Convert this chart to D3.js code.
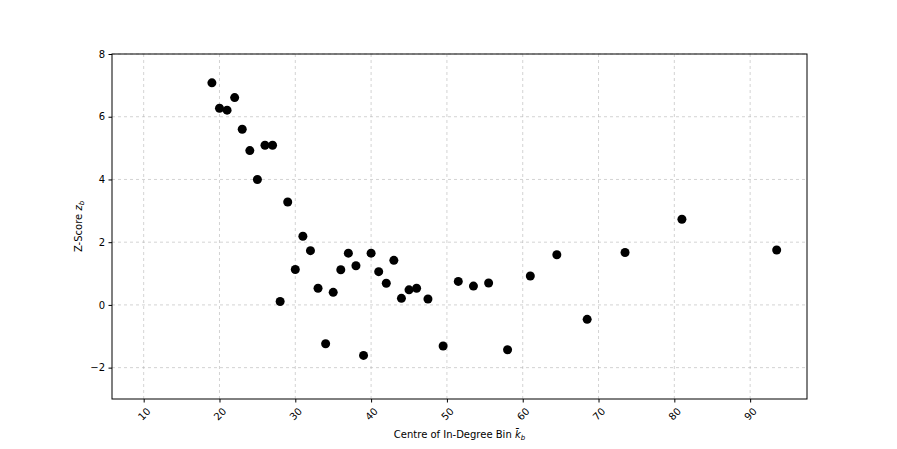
<!DOCTYPE html>
<html>
<head>
<meta charset="utf-8">
<script src="https://cdn.jsdelivr.net/npm/d3@7"></script>
<style>
  body { margin: 0; background: #fff; }
  text { font-family: "DejaVu Sans", sans-serif; }
</style>
</head>
<body>
<svg width="897" height="449"></svg>
<script>
// bin centres and z-scores
var binCentres = [19, 20, 21, 22, 23, 24, 25, 26, 27, 28, 29, 30, 31, 32, 33, 34, 35, 36, 37, 38,
                  39, 40, 41, 42, 43, 44, 45, 46, 47.5, 49.5, 51.5, 53.5, 55.5, 58, 61, 64.5, 68.5, 73.5, 81, 93.5];
var zScores = [7.08, 6.27, 6.21, 6.61, 5.60, 4.92, 4.00, 5.09, 5.09, 0.11, 3.28, 1.13, 2.19, 1.73, 0.53, -1.24, 0.40, 1.12, 1.65, 1.25,
               -1.61, 1.65, 1.06, 0.69, 1.42, 0.21, 0.48, 0.53, 0.19, -1.31, 0.75, 0.60, 0.70, -1.43, 0.92, 1.60, -0.46, 1.67, 2.73, 1.75];
var xTicks = [10, 20, 30, 40, 50, 60, 70, 80, 90];
var yTicks = [-2, 0, 2, 4, 6, 8];

var svg = d3.select("svg");
var pLeft = 112, pRight = 807, pTop = 54, pBottom = 399;

var x = d3.scaleLinear().domain([5.82, 97.5]).range([pLeft, pRight]);
var y = d3.scaleLinear().domain([-3, 8]).range([pBottom, pTop]);

// grid
var grid = svg.append("g").attr("class", "grid");
grid.selectAll("line.gx")
    .data(xTicks)
  .enter().append("line")
    .attr("x1", function(d) { return x(d); })
    .attr("x2", function(d) { return x(d); })
    .attr("y1", pTop).attr("y2", pBottom);
grid.selectAll("line.gy")
    .data(yTicks)
  .enter().append("line")
    .attr("y1", function(d) { return y(d); })
    .attr("y2", function(d) { return y(d); })
    .attr("x1", pLeft).attr("x2", pRight);
grid.selectAll("line")
    .attr("stroke", "#b0b0b0")
    .attr("stroke-opacity", 0.7)
    .attr("stroke-width", 0.8)
    .attr("stroke-dasharray", "3,3");

// points
svg.append("g")
  .selectAll("circle")
  .data(binCentres)
  .enter().append("circle")
    .attr("cx", function(d) { return x(d); })
    .attr("cy", function(d, i) { return y(zScores[i]); })
    .attr("r", 4.5)
    .attr("fill", "#000");

// axes
var xAxis = svg.append("g")
    .attr("transform", "translate(0," + pBottom + ")")
    .call(d3.axisBottom(x).tickValues(xTicks).tickSize(3.5).tickPadding(3));
xAxis.selectAll("text")
    .attr("font-size", "10px")
    .attr("fill", "#000")
    .style("text-anchor", "middle")
    .attr("dy", "0.35em")
    .attr("y", 0)
    .attr("transform", "translate(0,15) rotate(-45)");

var yAxis = svg.append("g")
    .attr("transform", "translate(" + pLeft + ",0)")
    .call(d3.axisLeft(y).tickValues(yTicks).tickSize(3.5).tickPadding(3.5)
      .tickFormat(function(d) { return d < 0 ? "\u2212" + Math.abs(d) : d; }));
yAxis.selectAll("text").attr("font-size", "10px").attr("fill", "#000");

svg.selectAll(".domain").remove();
svg.append("rect")
    .attr("x", pLeft).attr("y", pTop)
    .attr("width", pRight - pLeft).attr("height", pBottom - pTop)
    .attr("fill", "none").attr("stroke", "#000").attr("stroke-width", 1);

// labels
var xl = svg.append("text")
    .attr("x", (pLeft + pRight) / 2)
    .attr("y", 438)
    .attr("text-anchor", "middle")
    .attr("font-size", "10px");
xl.append("tspan").text("Centre of In-Degree Bin ");
xl.append("tspan").attr("font-style", "italic").text("k\u0304");
xl.append("tspan").attr("font-style", "italic").attr("font-size", "7px").attr("dy", 2).text("b");

var yl = svg.append("text")
    .attr("transform", "translate(82," + ((pTop + pBottom) / 2) + ") rotate(-90)")
    .attr("text-anchor", "middle")
    .attr("font-size", "10px");
yl.append("tspan").text("Z-Score ");
yl.append("tspan").attr("font-style", "italic").text("z");
yl.append("tspan").attr("font-style", "italic").attr("font-size", "7px").attr("dy", 2).text("b");
</script>
</body>
</html>
